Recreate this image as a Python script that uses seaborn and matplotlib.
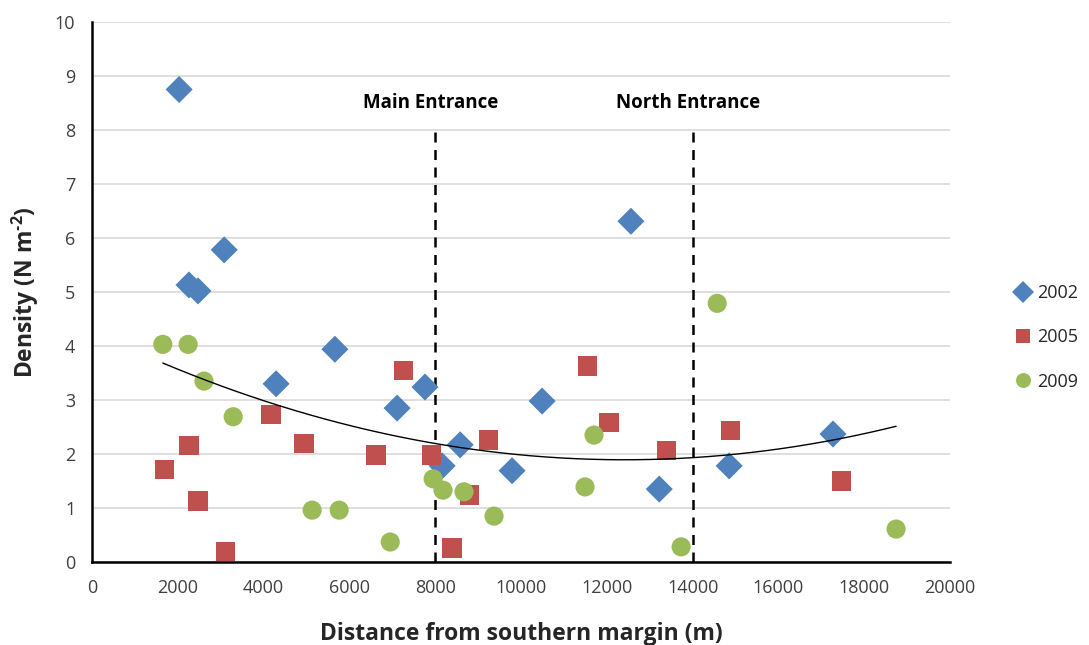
import numpy as np
import pandas as pd
import matplotlib
matplotlib.use("Agg")
import matplotlib.pyplot as plt
import seaborn as sns

# Survey transects: distance from the southern margin (m) and density (N m^-2)
dist_2002 = [2030, 2260, 2470, 3080, 4290, 5660, 7110, 7760, 8160, 8580,
             9790, 10490, 12560, 13220, 14850, 17270]
dens_2002 = [8.75, 5.13, 5.02, 5.78, 3.30, 3.94, 2.85, 3.24, 1.78, 2.17,
             1.69, 2.98, 6.31, 1.35, 1.78, 2.37]

dist_2005 = [1680, 2260, 2470, 3120, 4170, 4940, 6620, 7250, 7920, 8390,
             8790, 9250, 11540, 12050, 13380, 14890, 17460]
dens_2005 = [1.71, 2.15, 1.13, 0.20, 2.73, 2.19, 1.98, 3.55, 1.98, 0.26,
             1.24, 2.26, 3.63, 2.59, 2.06, 2.43, 1.50]

dist_2009 = [1650, 2240, 2610, 3290, 5130, 5760, 6950, 7950, 8180, 8670,
             9370, 11490, 11700, 13730, 14570, 18740]
dens_2009 = [4.03, 4.03, 3.35, 2.69, 0.96, 0.96, 0.37, 1.54, 1.33, 1.30,
             0.85, 1.39, 2.35, 0.28, 4.79, 0.61]

years = ["2002", "2005", "2009"]
year_colors = ["#4F81BD", "#C0504D", "#9BBB59"]
year_markers = ["D", "s", "o"]

entrance_names = ["Main Entrance", "North Entrance"]
entrance_dist = [8000, 14000]

x_ticks = list(range(0, 20001, 2000))
y_ticks = list(range(0, 11))

df = pd.concat([
    pd.DataFrame({"dist": dist_2002, "dens": dens_2002, "year": "2002"}),
    pd.DataFrame({"dist": dist_2005, "dens": dens_2005, "year": "2005"}),
    pd.DataFrame({"dist": dist_2009, "dens": dens_2009, "year": "2009"}),
], ignore_index=True)

sns.set_style("white")
plt.rcParams["font.family"] = ["Open Sans", "DejaVu Sans"]
plt.rcParams["mathtext.fontset"] = "custom"
plt.rcParams["mathtext.rm"] = "Open Sans"
plt.rcParams["mathtext.bf"] = "Open Sans:bold"

fig = plt.figure(figsize=(10.89, 6.45), dpi=100)
ax = fig.add_axes([0.0845, 0.1287, 0.788, 0.8372])

ax.set_axisbelow(True)
ax.grid(axis="y", color="#D9D9D9", linewidth=1.2)

sns.scatterplot(data=df, x="dist", y="dens", hue="year", style="year",
                hue_order=years, style_order=years,
                palette=dict(zip(years, year_colors)),
                markers=dict(zip(years, year_markers)),
                s=190, linewidth=0, alpha=1, ax=ax, zorder=3)

# Second-order polynomial trend across all surveys
coef = np.polyfit(df["dist"], df["dens"], 2)
xs = np.linspace(df["dist"].min(), df["dist"].max(), 200)
ax.plot(xs, np.polyval(coef, xs), color="black", linewidth=1.0, zorder=4)

# Entrance positions
for name, xd in zip(entrance_names, entrance_dist):
    ax.plot([xd, xd], [0, 8.0], color="black", linestyle=(0, (4, 3)),
            linewidth=1.8, zorder=2)
    ax.text(xd - 100, 8.5, name, ha="center", va="center",
            fontsize=13.5, fontweight="bold", color="black")

ax.set_xlim(0, 20000)
ax.set_ylim(0, 10)
ax.set_xticks(x_ticks)
ax.set_yticks(y_ticks)
ax.tick_params(axis="both", labelsize=13, colors="black", direction="out",
               length=6, width=1.8, labelcolor="#404040", pad=6)

for side in ["top", "right"]:
    ax.spines[side].set_visible(False)
for side in ["left", "bottom"]:
    ax.spines[side].set_color("black")
    ax.spines[side].set_linewidth(1.8)

ax.set_xlabel("Distance from southern margin (m)", fontsize=16.5,
              fontweight="bold", labelpad=18)
ax.set_ylabel("Density (N m$^{\\mathbf{\u20102}}$)",
              fontsize=16.5, fontweight="bold", labelpad=10)

handles, labels = ax.get_legend_handles_labels()
leg = ax.legend(handles, labels, loc="center left",
                bbox_to_anchor=(1.055, 0.416), frameon=False,
                fontsize=13, labelspacing=1.45, handletextpad=0.3,
                handlelength=1.0, markerscale=0.78)
for t in leg.get_texts():
    t.set_color("#262626")

fig.savefig("out.png", dpi=100)
